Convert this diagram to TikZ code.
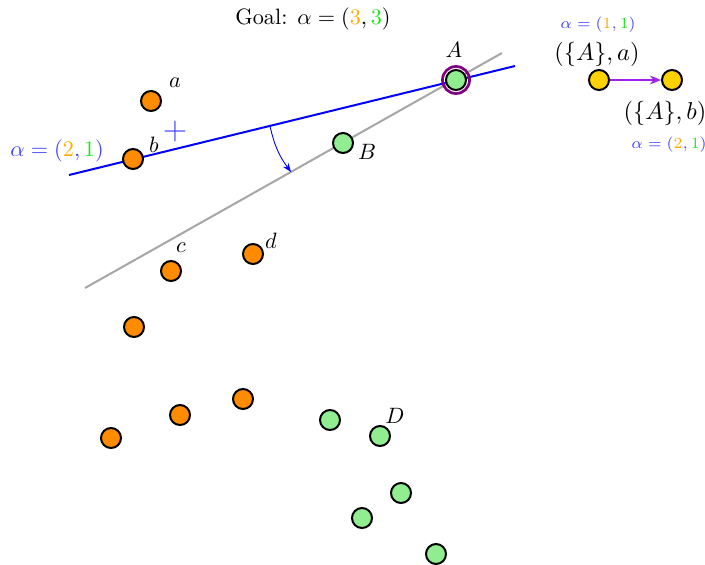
\documentclass[tikz,border=0pt]{standalone}
\usetikzlibrary{arrows.meta}
\definecolor{dotorange}{RGB}{255,140,0}
\definecolor{dotgreen}{RGB}{144,238,144}
\definecolor{dotyellow}{RGB}{255,210,0}
\definecolor{ablue}{RGB}{64,64,255}
\definecolor{torange}{RGB}{255,170,0}
\definecolor{tgreen}{RGB}{30,230,30}
\definecolor{ringpurple}{RGB}{128,0,128}
\definecolor{arrpurple}{RGB}{160,32,240}
\newcommand{\ab}[2]{{\color{ablue}\alpha=(}{\color{torange}#1}\mathpunct{\color{ablue},}{\color{tgreen}#2}{\color{ablue})}}
\begin{document}
\begin{tikzpicture}[x=0.45pt,y=-0.45pt,
  dot/.style={circle,draw=black,line width=0.9pt,minimum size=9pt,inner sep=0pt},
  od/.style={dot,fill=dotorange},
  gd/.style={dot,fill=dotgreen},
  yd/.style={dot,fill=dotyellow},
  lbl/.style={inner sep=0pt}]
\useasboundingbox (0,0) rectangle (705,564);
% lines
\coordinate (bl1) at (69,175);
\coordinate (bl2) at (515,66);
\coordinate (gl1) at (85,288);
\coordinate (gl2) at (502,53);
\draw[blue,line width=0.9pt] (bl1) -- (bl2);
\draw[black!35,line width=0.9pt] (gl1) -- (gl2);
% arc arrow
\coordinate (as) at (270,126);
\coordinate (ae) at (291,172);
\draw[blue,line width=0.4pt,-{Stealth[length=4pt,width=3pt]}] (as) to[bend right=12] (ae);
% ring
\node[circle,draw=ringpurple,line width=1.2pt,minimum size=12.2pt,inner sep=0pt] (ring) at (456,80) {};
% orange dots
\node[od] (a) at (151,101) {};
\node[od] (b) at (133,159) {};
\node[od] (c) at (171,271) {};
\node[od] (d) at (253,254) {};
\node[od] (o5) at (134,327) {};
\node[od] (o6) at (180,415) {};
\node[od] (o7) at (243,399) {};
\node[od] (o8) at (111,438) {};
% green dots
\node[gd] (A) at (456,80) {};
\node[gd] (B) at (343,143) {};
\node[gd] (g3) at (330,420) {};
\node[gd] (D) at (380,436) {};
\node[gd] (g5) at (401,493) {};
\node[gd] (g6) at (362,518) {};
\node[gd] (g7) at (436,554) {};
% labels
\node[lbl] (la) at (175,83) {$a$};
\node[lbl] (lb) at (154,145) {$b$};
\node[lbl] (lc) at (181,248) {$c$};
\node[lbl] (ld) at (271,241) {$d$};
\node[lbl] (lA) at (454,50) {$A$};
\node[lbl] (lB) at (367,152) {$B$};
\node[lbl] (lD) at (395,416) {$D$};
\node[lbl,text=ablue,font=\fontsize{14}{16}\selectfont] (plus) at (175,131) {$+$};
% texts
\node[lbl] (goal) at (313,19) {Goal: $\alpha=({\color{torange}3},{\color{tgreen}3})$};
\node[lbl] (al) at (57,151) {$\ab{2}{1}$};
% yellow graph
\node[yd] (y1) at (599,80) {};
\node[yd] (y2) at (672,80) {};
\draw[arrpurple,line width=0.9pt,-{Stealth[length=5pt,width=4pt]}] (y1) -- (y2);
\node[lbl,font=\fontsize{7.5}{9}\selectfont] (t1) at (598,25) {$\ab{1}{1}$};
\node[lbl,font=\fontsize{11}{13}\selectfont] (t2) at (597,54) {$(\{A\},a)$};
\node[lbl,font=\fontsize{10.6}{13}\selectfont] (t3) at (665,113) {$(\{A\},b)$};
\node[lbl,font=\fontsize{7.5}{9}\selectfont] (t4) at (669,145) {$\ab{2}{1}$};
\end{tikzpicture}
\end{document}
